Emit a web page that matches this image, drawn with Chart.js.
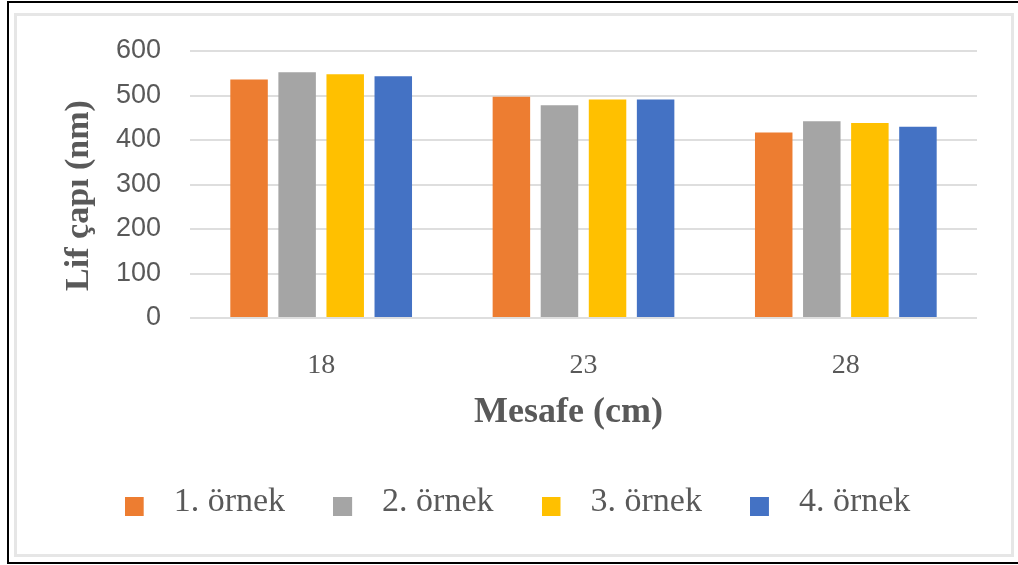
<!DOCTYPE html>
<html>
<head>
<meta charset="utf-8">
<script src="https://cdn.jsdelivr.net/npm/chart.js@4.4.1/dist/chart.umd.min.js"></script>
<style>
  html, body { margin: 0; padding: 0; background: #fff; overflow: hidden; width: 1018px; height: 565px; }
  .frame-outer { position: absolute; left: 7px; top: 1px; width: 1020px; height: 563px; border: 2px solid #000; box-sizing: border-box; }
  .frame-inner { position: absolute; left: 14px; top: 13px; width: 1000px; height: 544px; border: 3px solid #e6e6e6; box-sizing: border-box; }
  #chart { position: absolute; left: 0; top: 0; }
</style>
</head>
<body>
<div class="frame-outer"></div>
<div class="frame-inner"></div>
<canvas id="chart" width="1018" height="565"></canvas>
<script>
// Distance categories (cm)
const distances = ['18', '23', '28'];

// Fibre diameter (nm) per sample
const sampleNames = ['1. örnek', '2. örnek', '3. örnek', '4. örnek'];
const sample1 = [536, 497, 417];
const sample2 = [552, 478, 442];
const sample3 = [548, 491, 438];
const sample4 = [543, 491, 430];

// Y axis ticks
const yTicks = [0, 100, 200, 300, 400, 500, 600];

// Axis titles
const xTitle = 'Mesafe (cm)';
const yTitle = 'Lif çapı (nm)';

const seriesColors = ['#ED7D31', '#A5A5A5', '#FFC000', '#4472C4'];
const textColor = '#595959';

// Small square legend markers with space on the right before the label
function makeMarker(color) {
  const c = document.createElement('canvas');
  c.width = 32;
  c.height = 30;
  const ctx = c.getContext('2d');
  ctx.fillStyle = color;
  ctx.fillRect(0, 10, 19, 19);
  return c;
}
const markers = seriesColors.map(makeMarker);

const seriesValues = [sample1, sample2, sample3, sample4];

// Axis titles, placed beside the plot area (slightly off the axis centres)
const axisTitles = {
  id: 'axisTitles',
  afterDraw(chart) {
    const { ctx, chartArea, scales } = chart;
    ctx.save();
    ctx.fillStyle = textColor;
    ctx.textAlign = 'center';
    ctx.textBaseline = 'middle';
    ctx.font = 'bold 36px "Liberation Serif"';
    ctx.fillText(xTitle, (chartArea.left + chartArea.right) / 2 - 15, scales.x.bottom - 24);
    ctx.font = 'bold 34px "Liberation Serif"';
    ctx.translate(scales.y.left + 21, (chartArea.top + chartArea.bottom) / 2 + 11);
    ctx.rotate(-Math.PI / 2);
    ctx.fillText(yTitle, 0, 0);
    ctx.restore();
  }
};

new Chart(document.getElementById('chart'), {
  type: 'bar',
  data: {
    labels: distances,
    datasets: seriesValues.map((vals, i) => ({
      label: sampleNames[i],
      data: vals,
      backgroundColor: seriesColors[i],
      borderWidth: 0,
      categoryPercentage: 0.733,
      barPercentage: 0.78
    }))
  },
  plugins: [axisTitles],
  options: {
    responsive: false,
    animation: false,
    devicePixelRatio: 1,
    layout: { padding: { left: 58, right: 41, top: 51, bottom: 36 } },
    scales: {
      x: {
        grid: { display: false },
        border: { display: false },
        ticks: {
          color: textColor,
          padding: 23,
          font: { family: 'Liberation Serif', size: 28 }
        },
        afterFit(scale) { scale.height = 119; }
      },
      y: {
        min: 0,
        max: 600,
        afterBuildTicks(scale) { scale.ticks = yTicks.map(v => ({ value: v })); },
        grid: { color: '#dedede', lineWidth: 2, drawTicks: false },
        border: { display: false },
        ticks: {
          color: textColor,
          padding: 29,
          font: { family: 'Liberation Sans', size: 27 }
        },
        afterFit(scale) { scale.width = 132; }
      }
    },
    plugins: {
      tooltip: { enabled: false },
      legend: {
        position: 'bottom',
        labels: {
          usePointStyle: true,
          pointStyleWidth: 32,
          padding: 48,
          color: textColor,
          font: { family: 'Liberation Serif', size: 34 },
          generateLabels(chart) {
            const items = Chart.defaults.plugins.legend.labels.generateLabels(chart);
            items.forEach((item, i) => { item.pointStyle = markers[i]; });
            return items;
          }
        }
      }
    }
  }
});
</script>
</body>
</html>
